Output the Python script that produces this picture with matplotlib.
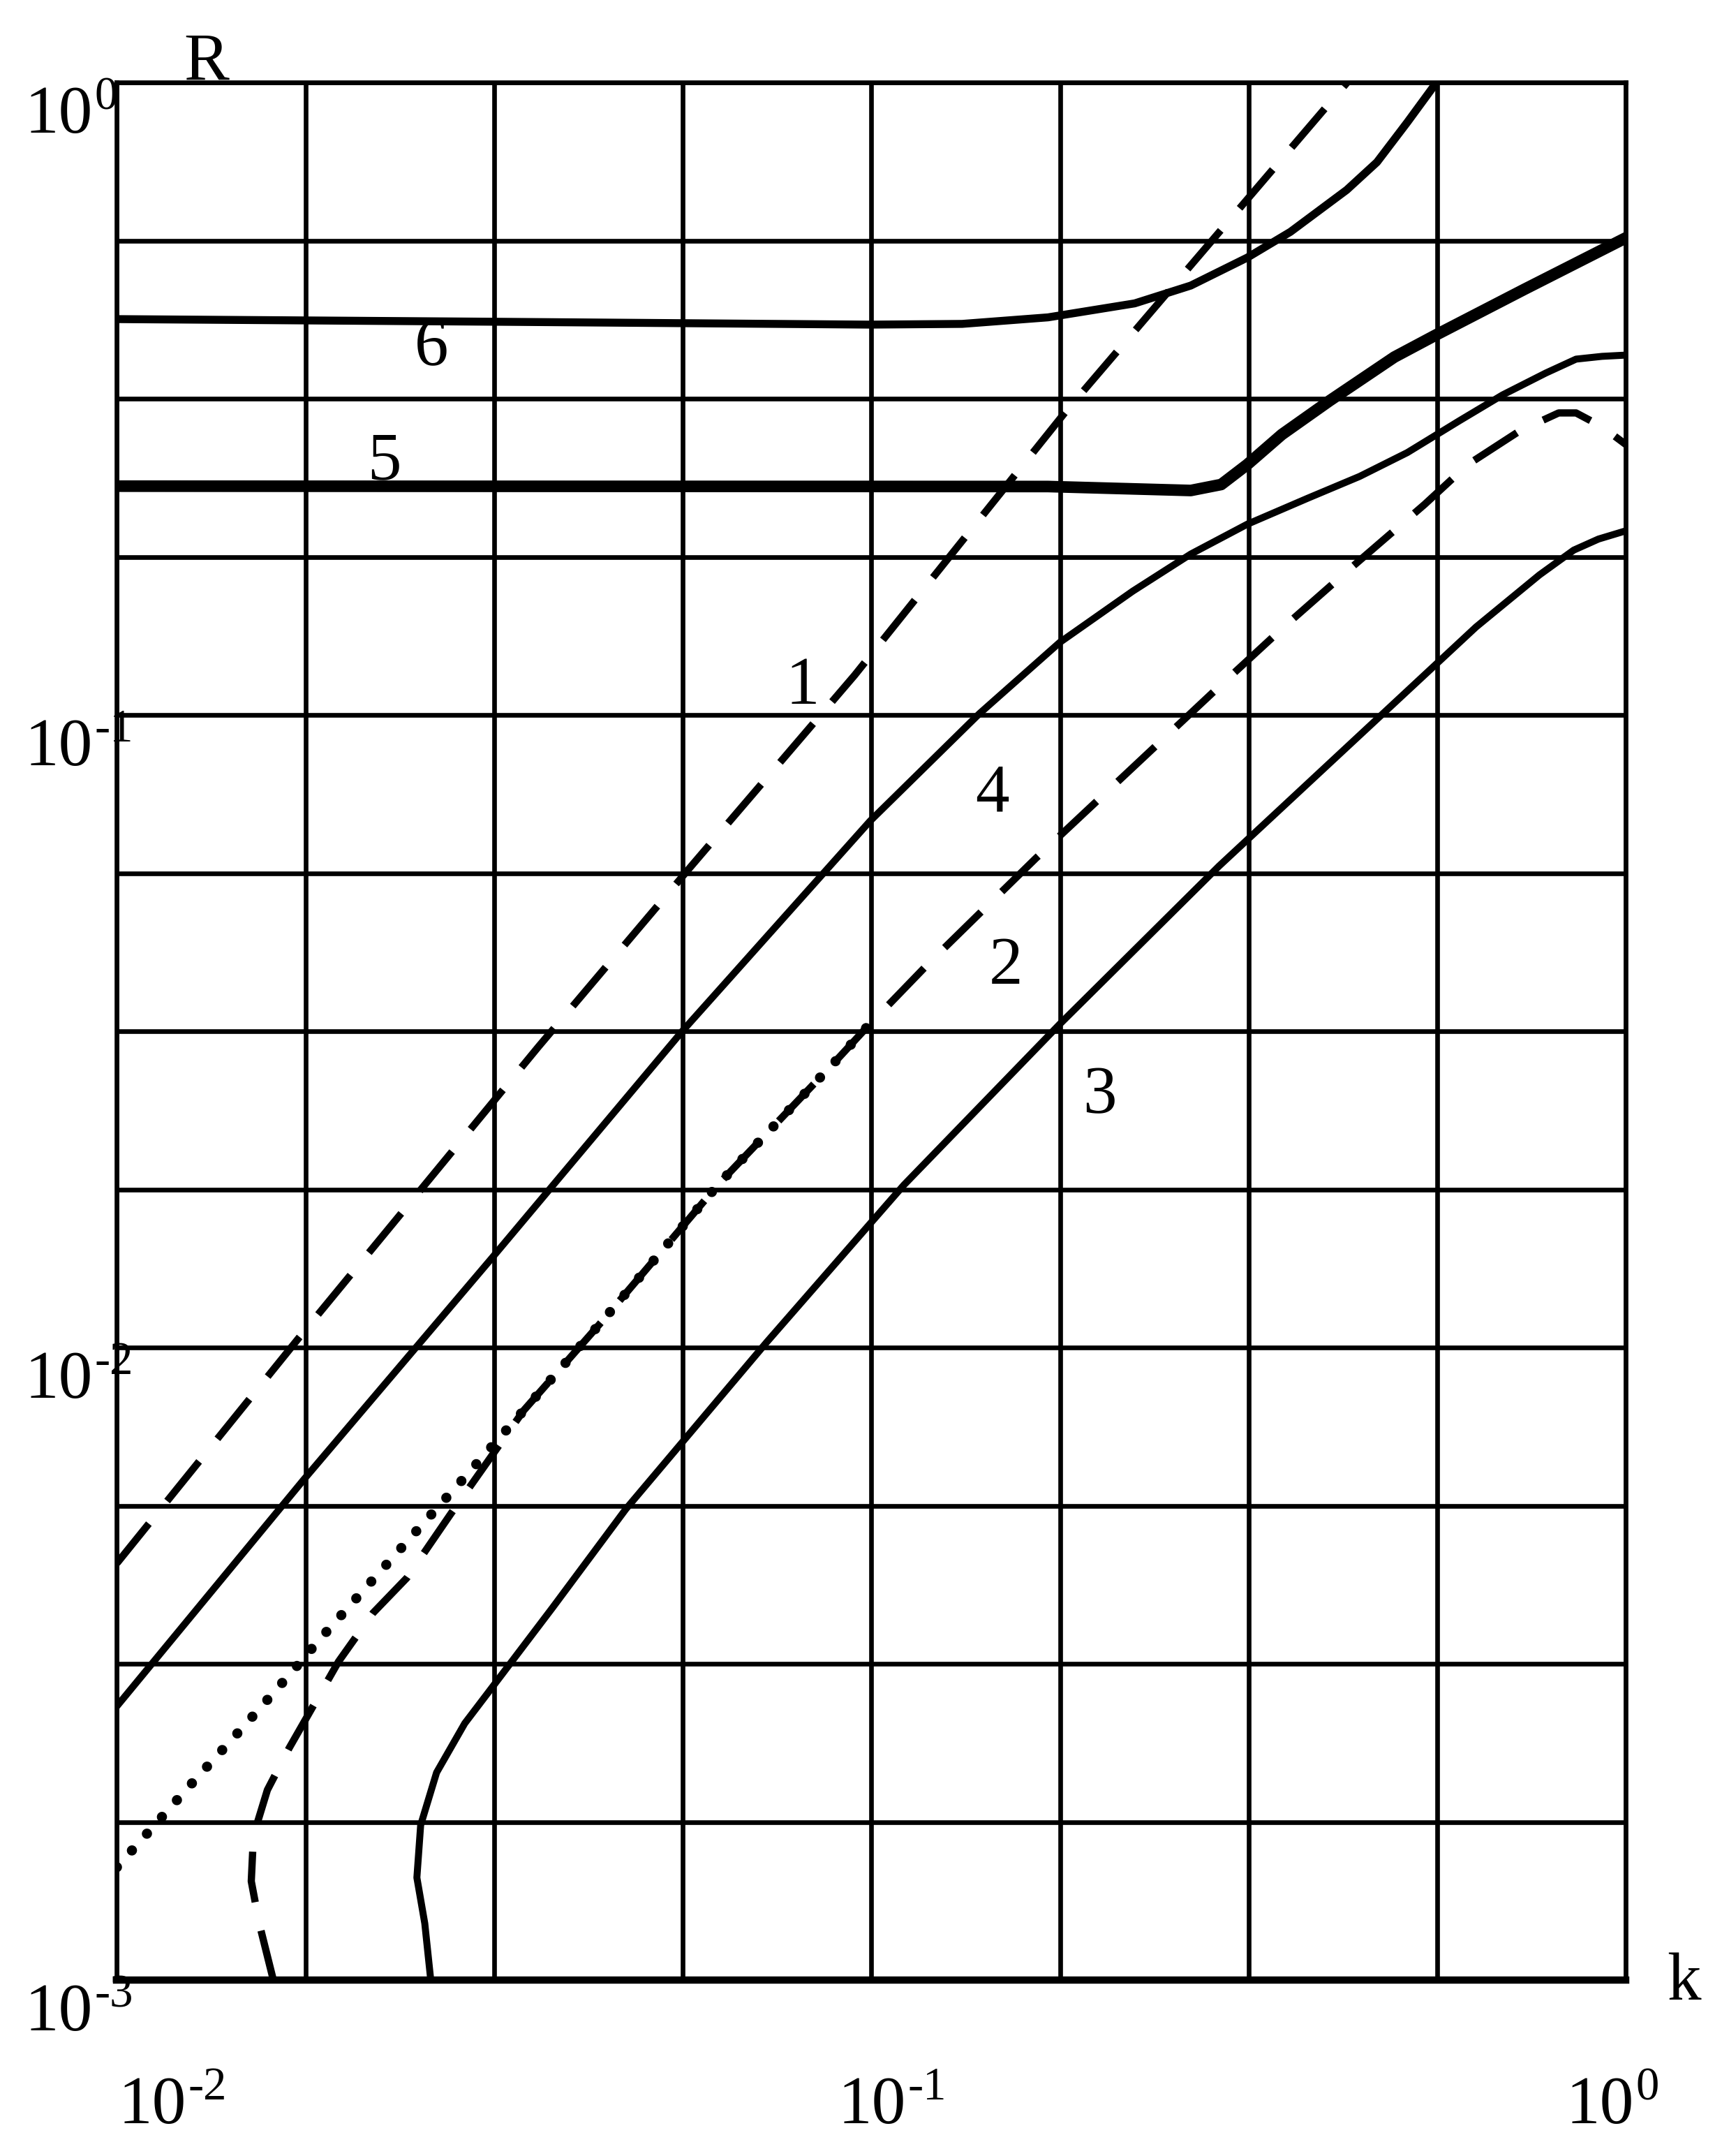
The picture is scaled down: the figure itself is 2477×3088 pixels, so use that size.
import numpy as np
import matplotlib.pyplot as plt

plt.rcParams['font.family'] = ['Liberation Serif', 'DejaVu Serif']

# curve values (k on x, R on y)
curve1_k = [0.01, 0.0177, 0.0362, 0.0577, 0.095, 0.181, 0.427]
curve1_R = [0.00456, 0.0106, 0.0299, 0.0577, 0.1156, 0.302, 1.0]

curve2_k = [0.01612, 0.01544, 0.01507, 0.01517, 0.01583, 0.01692, 0.01788, 0.01967,
            0.02185, 0.02423, 0.0277, 0.0346, 0.04389, 0.06271, 0.0896, 0.09842,
            0.1196, 0.1651, 0.2866, 0.352, 0.4319, 0.5409, 0.6171, 0.7235, 0.8144,
            0.8588, 0.9296, 1.0]
curve2_R = [0.001, 0.001229, 0.001433, 0.001692, 0.001998, 0.002328, 0.002612, 0.003189,
            0.003805, 0.004324, 0.005458, 0.007952, 0.01098, 0.01813, 0.02835, 0.03201,
            0.04071, 0.05934, 0.1099, 0.1378, 0.1708, 0.2153, 0.2489, 0.2815, 0.3004,
            0.3004, 0.2857, 0.2677]

dotted_k = [0.01, 0.01112, 0.01279, 0.0141, 0.01553, 0.01702, 0.01865, 0.02151,
            0.02494, 0.02873, 0.0346, 0.04389, 0.06271, 0.0896, 0.09842]
dotted_R = [0.001508, 0.001737, 0.002094, 0.002378, 0.002703, 0.003062, 0.003477, 0.004208,
            0.005127, 0.006186, 0.007952, 0.01098, 0.01813, 0.02835, 0.03201]

curve3_k = [0.02606, 0.02559, 0.02498, 0.02527, 0.02653, 0.02891, 0.03148, 0.03779,
            0.04728, 0.07276, 0.1009, 0.1104, 0.1777, 0.2889, 0.6329, 0.7681,
            0.8527, 0.9196, 1.0]
curve3_R = [0.001, 0.001229, 0.001452, 0.001758, 0.002129, 0.002546, 0.00291, 0.003879,
            0.005557, 0.01022, 0.01598, 0.01807, 0.03247, 0.05772, 0.1378, 0.1666,
            0.1823, 0.1898, 0.1956]

curve4_k = [0.01, 0.0177, 0.0314, 0.0561, 0.0996, 0.139, 0.1777,
            0.222, 0.265, 0.3148, 0.3786, 0.4436, 0.5131, 0.6013, 0.6861, 0.7828,
            0.8588, 0.9296, 1.0]
curve4_R = [0.00271, 0.00619, 0.01385, 0.0316, 0.068, 0.1005, 0.1303,
            0.157, 0.1797, 0.2003, 0.2202, 0.2384, 0.260, 0.2919, 0.3207, 0.3473,
            0.3654, 0.3691, 0.3708]

curve5_k = [0.01, 0.1714, 0.265, 0.2908, 0.3148, 0.3499, 0.4046, 0.4932, 0.5591, 0.7329, 1.0]
curve5_R = [0.2301, 0.2298, 0.2265, 0.2315, 0.2489, 0.2777, 0.3139, 0.3681, 0.3986, 0.4709, 0.5683]

curve6_k = [0.01, 0.0314, 0.0996, 0.1319, 0.1714, 0.2233, 0.265, 0.3148, 0.3592,
            0.4265, 0.4677, 0.5131, 0.5608]
curve6_R = [0.4227, 0.4187, 0.4143, 0.4154, 0.4254, 0.4476, 0.4776, 0.5287, 0.5808,
            0.6765, 0.7483, 0.8653, 1.0]

decade_exps = ['-2', '-1', '0']
y_decade_exps = ['0', '-1', '-2', '-3']

fig = plt.figure(figsize=(24.77, 30.88), dpi=100)
ax = fig.add_axes([0.0676, 0.0816, 0.8728, 0.8801])
ax.set_xscale('log')
ax.set_yscale('log')
ax.set_xlim(0.01, 1)
ax.set_ylim(0.001, 1)

# grid every quarter decade
ax.set_xticks(10.0 ** np.arange(-2, 0.001, 0.25))
ax.set_yticks(10.0 ** np.arange(-3, 0.001, 0.25))
ax.minorticks_off()
ax.set_xticklabels([])
ax.set_yticklabels([])
ax.tick_params(length=0)
ax.grid(True, color='black', lw=4.8)
for side in ['left', 'right', 'top']:
    ax.spines[side].set_linewidth(4.8)
ax.spines['bottom'].set_linewidth(7.5)

# curves
ax.plot(curve1_k, curve1_R, color='black', lw=7.5, dashes=(7, 4))
ax.plot(curve2_k, curve2_R, color='black', lw=7.5, dashes=(7, 4))
ax.plot(dotted_k, dotted_R, color='black', lw=10.5, dashes=(0.01, 2.2), dash_capstyle='round')
ax.plot(curve3_k, curve3_R, color='black', lw=7.2, solid_joinstyle='round')
ax.plot(curve4_k, curve4_R, color='black', lw=7.2, solid_joinstyle='round')
ax.plot(curve5_k, curve5_R, color='black', lw=12, solid_joinstyle='round')
ax.plot(curve6_k, curve6_R, color='black', lw=8.2, solid_joinstyle='round')

# curve numbers
fs = 70
ax.text(0.081, 0.1106, '1', fontsize=fs, ha='center', va='center')
ax.text(0.1506, 0.0399, '2', fontsize=fs, ha='center', va='center')
ax.text(0.2006, 0.0249, '3', fontsize=fs, ha='center', va='center')
ax.text(0.1447, 0.0749, '4', fontsize=fs, ha='center', va='center')
ax.text(0.02263, 0.2506, '5', fontsize=fs, ha='center', va='center')
ax.text(0.0261, 0.3787, '6', fontsize=fs, ha='center', va='center')

# decade labels, drawn as "10" plus a raised exponent
sup_fs = 48
w10 = fs * 100 / 72.0
x_shift = [2, -48, -86]
for e, dx in zip(decade_exps, x_shift):
    pos = 10.0 ** int(e)
    ax.annotate('10', xy=(pos, 0), xycoords=('data', 'axes fraction'),
                xytext=(dx, -205), textcoords='offset pixels',
                ha='left', va='baseline', fontsize=fs, annotation_clip=False)
    ax.annotate(e, xy=(pos, 0), xycoords=('data', 'axes fraction'),
                xytext=(dx + w10 + 3, -171), textcoords='offset pixels',
                ha='left', va='baseline', fontsize=sup_fs, annotation_clip=False)

for e in y_decade_exps:
    pos = 10.0 ** int(e)
    ax.annotate('10', xy=(0, pos), xycoords=('axes fraction', 'data'),
                xytext=(-35 - w10, -72), textcoords='offset pixels',
                ha='left', va='baseline', fontsize=fs, annotation_clip=False)
    ax.annotate(e, xy=(0, pos), xycoords=('axes fraction', 'data'),
                xytext=(-32, -38), textcoords='offset pixels',
                ha='left', va='baseline', fontsize=sup_fs, annotation_clip=False)

# axis names
ax.annotate('R', xy=(0, 1), xycoords='axes fraction', xytext=(128, 4),
            textcoords='offset pixels', ha='center', va='baseline', fontsize=fs)
ax.annotate('k', xy=(1, 0), xycoords='axes fraction', xytext=(83, -5),
            textcoords='offset pixels', ha='center', va='center', fontsize=fs)

fig.savefig('out.png', dpi=100)
